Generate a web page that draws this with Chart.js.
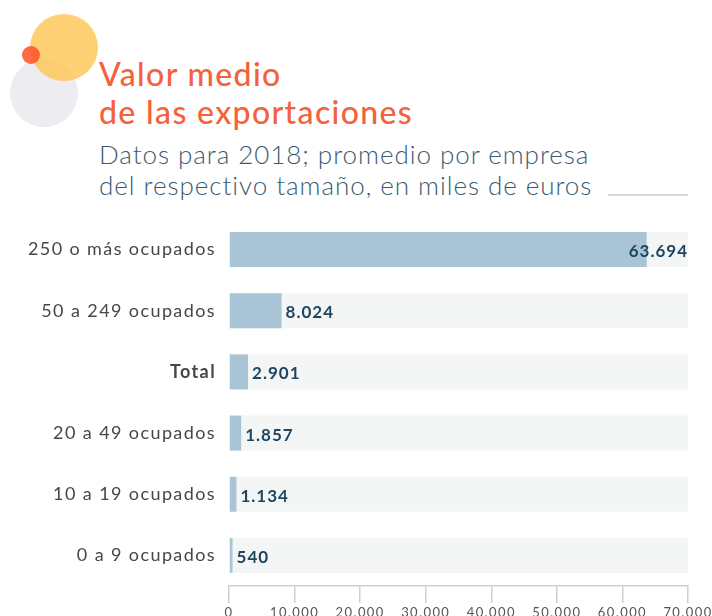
<!DOCTYPE html>
<html>
<head>
<meta charset="utf-8">
<script src="https://cdn.jsdelivr.net/npm/chart.js@4"></script>
<style>
  html, body { margin: 0; padding: 0; width: 712px; height: 616px; overflow: hidden; background: #fff; }
  body { position: relative; font-family: Lato, 'Open Sans', sans-serif; }
  .dot { position: absolute; border-radius: 50%; }
  #title { position: absolute; left: 99px; top: 55px; color: #f5613b; font-size: 32px; font-weight: 500; line-height: 38px; letter-spacing: 1.35px; white-space: nowrap; }
  #sub { position: absolute; left: 99px; top: 139px; color: #3b5a71; font-size: 26px; font-weight: 300; line-height: 31px; letter-spacing: 0.95px; white-space: nowrap; }
  #rule { position: absolute; left: 608px; top: 194px; width: 80px; height: 2px; background: #d6d9dc; }
  #wrap { position: absolute; left: 0; top: 0; width: 712px; height: 630px; }
</style>
</head>
<body>
<div class="dot" style="left:10px;top:59px;width:68px;height:68px;background:#ececf1"></div>
<div class="dot" style="left:30px;top:14px;width:68px;height:67px;background:rgba(253,200,90,0.85)"></div>
<div class="dot" style="left:22px;top:46px;width:18px;height:18px;background:rgba(255,80,40,0.85)"></div>
<div id="title">Valor medio<br>de las exportaciones</div>
<div id="sub">Datos para 2018; promedio por empresa<br>del respectivo tamaño, en miles de euros</div>
<div id="rule"></div>
<div id="wrap"><canvas id="chart" width="712" height="630"></canvas></div>
<script>
'use strict';

const categories = ['250 o más ocupados', '50 a 249 ocupados', 'Total', '20 a 49 ocupados', '10 a 19 ocupados', '0 a 9 ocupados'];
const values = [63694, 8024, 2901, 1857, 1134, 540];
const axisMax = 70000;
const xTicks = [0, 10000, 20000, 30000, 40000, 50000, 60000, 70000];

const fmtNum = v => v.toLocaleString('de-DE');

// espaciado de letras para acercarse a la tipografía original
const spacing = {
  id: 'spacing',
  beforeDraw(chart) { chart.ctx.letterSpacing = '1.4px'; },
  afterDraw(chart) { chart.ctx.letterSpacing = '0px'; },
};

// etiquetas de valor al final de cada barra
const valueLabels = {
  id: 'valueLabels',
  afterDatasetsDraw(chart) {
    const { ctx, chartArea } = chart;
    const meta = chart.getDatasetMeta(1);
    ctx.save();
    ctx.letterSpacing = '1px';
    ctx.font = 'bold 17px Lato, sans-serif';
    ctx.fillStyle = '#1d4761';
    ctx.textBaseline = 'middle';
    meta.data.forEach((bar, i) => {
      const txt = fmtNum(values[i]);
      const w = ctx.measureText(txt).width;
      let x = bar.x + 4;
      if (x + w > chartArea.right) x = chartArea.right - w;
      ctx.fillText(txt, x, bar.y + 2);
    });
    ctx.restore();
  },
};

new Chart(document.getElementById('chart'), {
  type: 'bar',
  data: {
    labels: categories,
    datasets: [
      {
        data: categories.map(() => axisMax),
        backgroundColor: '#f4f6f6',
        order: 2,
        grouped: false,
      },
      {
        data: values,
        backgroundColor: '#a8c4d5',
        order: 1,
        grouped: false,
      },
    ],
  },
  options: {
    indexAxis: 'y',
    responsive: false,
    animation: false,
    events: [],
    barPercentage: 0.572,
    categoryPercentage: 1,
    layout: { padding: { left: 0, right: 24, top: 219, bottom: 14 } },
    plugins: { legend: { display: false }, tooltip: { enabled: false } },
    scales: {
      x: {
        min: 0,
        max: axisMax,
        afterBuildTicks: s => { s.ticks = xTicks.map(v => ({ value: v })); },
        afterFit: s => { s.height = 30; },
        border: { color: '#cfcfcf', width: 1.5 },
        grid: { drawOnChartArea: false, tickLength: 17, color: '#cfcfcf', lineWidth: 1.5 },
        ticks: {
          color: '#555',
          padding: 2,
          maxRotation: 0,
          autoSkip: false,
          font: { family: 'Lato, sans-serif', size: 13 },
          callback: v => fmtNum(v),
        },
      },
      y: {
        afterFit: s => { s.width = 229; },
        border: { display: false },
        grid: { display: false },
        ticks: {
          color: '#474747',
          padding: 5,
          font: ctx => ({
            family: 'Lato, sans-serif',
            size: 18,
            weight: ctx.tick && ctx.tick.label === 'Total' ? 'bold' : 'normal',
          }),
        },
      },
    },
  },
  plugins: [spacing, valueLabels],
});
</script>
</body>
</html>
